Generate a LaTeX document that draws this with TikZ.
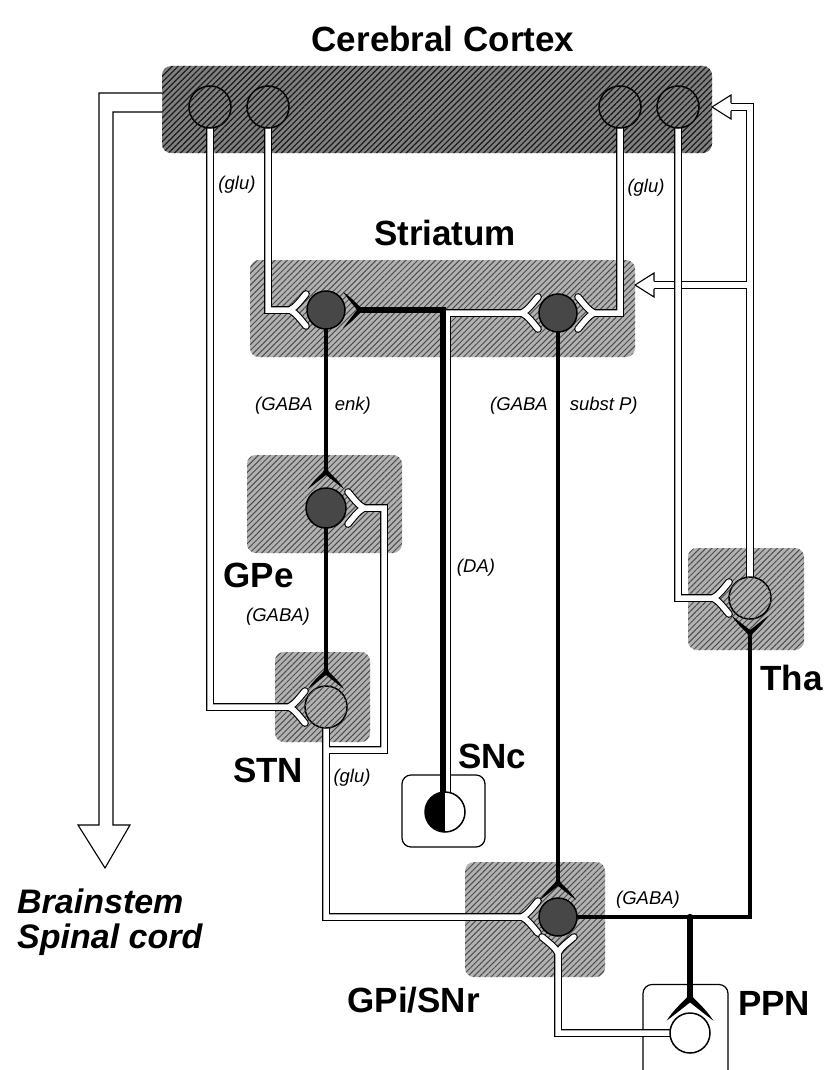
\documentclass[tikz,border=0pt]{standalone}
\usepackage{fontspec}
\setmainfont{Liberation Sans}
\usetikzlibrary{calc,patterns.meta}
\pgfdeclarelayer{bg}
\pgfdeclarelayer{ax}
\pgfsetlayers{bg,ax,main}
\newcommand\wprongs[2]{{[shift={(#1)},rotate=#2] (0,0) .. controls (6,3) and (10,9) .. (16,16) (0,0) .. controls (6,-3) and (10,-9) .. (16,-16)}}
\tikzset{
  bfork/.pic={\fill[black] (-0.5,-2.3) -- (1,-2.3) .. controls (5,-6) and (11,-13) .. (19,-18) .. controls (13,-10) and (8,-4) .. (5,0) .. controls (8,4) and (13,10) .. (19,18) .. controls (11,13) and (5,6) .. (1,2.3) -- (-0.5,2.3) -- cycle;},
  openarrow/.pic={\draw[line width=1.1pt, fill=white, line join=miter] (19,-3.85) -- (19,-12) -- (0,0) -- (19,12) -- (19,3.85);},
}
\begin{document}
\begin{tikzpicture}[x=1pt,y=-1pt,
  box/.style={rectangle, rounded corners=9pt, inner sep=0pt, outer sep=0pt},
  darkbox/.style={box, fill=black!50, postaction={pattern={Lines[angle=45,distance=4.2pt,line width=1.2pt]}, pattern color=black!90}},
  lightbox/.style={box, fill=black!30, postaction={pattern={Lines[angle=45,distance=4.2pt,line width=1pt]}, pattern color=black!70}},
  plainbox/.style={box, draw=black, line width=1.2pt, fill=white},
  neuron/.style={circle, draw=black, line width=1.5pt, inner sep=0pt, outer sep=0pt, minimum size=42pt},
  cneuron/.style={neuron, fill=black!50, postaction={pattern={Lines[angle=45,distance=4.2pt,line width=1.2pt]}, pattern color=black!90}},
  lneuron/.style={neuron, fill=black!30, postaction={pattern={Lines[angle=45,distance=4.2pt,line width=1pt]}, pattern color=black!70}},
  dneuron/.style={neuron, minimum size=38pt, fill=black!72},
  wneuron/.style={neuron, fill=white},
  wax/.style={draw=black, line width=1.1pt, double=white, double distance=5.5pt, line cap=round, line join=miter},
  bax/.style={draw=black, line width=4.6pt, line cap=round, line join=miter},
  ttl/.style={font=\bfseries\fontsize{35}{40}\selectfont, inner sep=0pt},
  lbl/.style={font=\itshape\fontsize{18.5}{21}\selectfont, inner sep=0pt},
  bsl/.style={font=\bfseries\itshape\fontsize{34}{36}\selectfont, inner sep=0pt, anchor=base west},
]
\useasboundingbox (0,0) rectangle (824,1070);
\begin{pgfonlayer}{bg}
\fill[white] (0,0) rectangle (824,1070);
\node[darkbox, minimum width=550pt, minimum height=87pt] (ctx) at (437,109.5) {};
\node[lightbox, minimum width=385pt, minimum height=97pt] (str) at (442.5,308.5) {};
\node[lightbox, minimum width=155pt, minimum height=98pt] (gpe) at (324.5,504) {};
\node[lightbox, minimum width=95pt, minimum height=90pt] (stn) at (322.5,697) {};
\node[plainbox, minimum width=83pt, minimum height=72pt] (snc) at (443.5,811) {};
\node[lightbox, minimum width=140pt, minimum height=115pt] (gpi) at (535,919.5) {};
\node[lightbox, minimum width=116pt, minimum height=102pt] (tha) at (746,599) {};
\node[plainbox, minimum width=85pt, minimum height=95pt] (ppn) at (685.5,1032) {};
\end{pgfonlayer}

% neurons
\node[cneuron] (c1) at (210,107) {};
\node[cneuron] (c2) at (268,107) {};
\node[cneuron] (c3) at (620,107) {};
\node[cneuron] (c4) at (678,107) {};
\node[dneuron] (s1) at (326,310) {};
\node[dneuron] (s2) at (558,313) {};
\node[dneuron, minimum size=40pt] (ngpe) at (326,508) {};
\node[lneuron] (nstn) at (326,707) {};
\node[neuron, minimum size=40pt, fill=white, path picture={\fill[black] (path picture bounding box.south west) rectangle (path picture bounding box.north);}] (nsnc) at (445,812) {};
\node[dneuron] (ngpi) at (558,917) {};
\node[lneuron] (ntha) at (750,598) {};
\node[wneuron, minimum size=40pt] (nppn) at (690,1033) {};

% fork points
\coordinate (fStnL) at ($(nstn.center)+(-37,0)$);
\coordinate (fStnT) at ($(nstn.center)+(0,-37)$);
\coordinate (fS1L) at ($(s1.center)+(-36,0)$);
\coordinate (fS1R) at ($(s1.center)+(36,0)$);
\coordinate (fS2L) at ($(s2.center)+(-36,0)$);
\coordinate (fS2R) at ($(s2.center)+(36,0)$);
\coordinate (fThaL) at ($(ntha.center)+(-37,0)$);
\coordinate (fThaB) at ($(ntha.center)+(0,37)$);
\coordinate (fGpeT) at ($(ngpe.center)+(0,-38)$);
\coordinate (fGpeR) at ($(ngpe.center)+(38,0)$);
\coordinate (fGpiT) at ($(ngpi.center)+(0,-36)$);
\coordinate (fGpiL) at ($(ngpi.center)+(-36,0)$);
\coordinate (fGpiB) at ($(ngpi.center)+(0,36)$);
\coordinate (fPpnT) at ($(nppn.center)+(0,-37)$);
\coordinate (tipC) at (ctx.east |- c4.center);
\coordinate (tipS) at ($(str.east)+(0,-23.5)$);
\coordinate (b1) at ($(nstn.center)+(0,43)$);
\coordinate (k1) at ($(fGpeR)+(20,0)$);
\coordinate (b2) at (nppn.center |- ngpi.center);
\coordinate (da1) at ($(nsnc.center)+(2,-19)$);
\coordinate (da2) at ($(nsnc.center)+(-2.5,-19)$);

\begin{pgfonlayer}{ax}
% brainstem / spinal cord output
\draw[line width=1.1pt, fill=white, line join=miter] (ctx.west |- 0,93) -- (99,93) -- (99,825) -- (78,825) -- (105,868) -- (130,825) -- (113,825) -- (113,112) -- (ctx.west |- 0,112);
% cortex -> striatum, STN
\draw[wax] (c1.south) |- (fStnL) \wprongs{fStnL}{0};
\draw[wax] (c2.south) |- (fS1L) \wprongs{fS1L}{0};
\draw[wax] (c3.south) |- (fS2R) \wprongs{fS2R}{180};
% thalamus -> cortex, striatum
\draw[wax] (ntha.north) |- ($(tipC)+(10,0)$) (ntha.north |- tipS) -- ($(tipS)+(10,0)$);
\pic at (tipC) {openarrow};
\pic at (tipS) {openarrow};
% cortex -> thalamus
\draw[wax] (c4.south) |- (fThaL) \wprongs{fThaL}{0};
% striatum -> GPe, GPi ; GPe -> STN
\draw[bax] (s1.south) -- (fGpeT);
\pic[rotate=-90] at (fGpeT) {bfork};
\draw[bax] (ngpe.south) -- (fStnT);
\pic[rotate=-90] at (fStnT) {bfork};
\draw[bax] (s2.south) -- (fGpiT);
\pic[rotate=-90] at (fGpiT) {bfork};
% STN -> GPi, GPe
\draw[wax] (nstn.south) |- (fGpiL) \wprongs{fGpiL}{0} (b1) -| (k1) -- (fGpeR) \wprongs{fGpeR}{180};
% GPi -> thalamus, PPN
\draw[bax] (ngpi.east) -| (fThaB);
\pic[rotate=90] at (fThaB) {bfork};
\draw[bax, line width=6.5pt] (b2) -- (fPpnT);
\pic[rotate=-90, scale=1.3] at (fPpnT) {bfork};
% PPN -> GPi
\draw[wax] (nppn.west) -| (fGpiB) \wprongs{fGpiB}{90};
% SNc -> striatum (DA)
\draw[wax] (da1) |- (fS2L) \wprongs{fS2L}{0};
\draw[bax, line width=6pt] (da2) |- (fS1R);
\pic[rotate=180] at (fS1R) {bfork};
\end{pgfonlayer}

% titles
\node[ttl, anchor=base] (tCtx) at (443,52) {Cerebral Cortex};
\node[ttl, anchor=base] (tStr) at (445,245) {Striatum};
\node[ttl, anchor=base east] (tGpe) at (294,587) {GPe};
\node[ttl, anchor=base west] (tStn) at (233,782) {STN};
\node[ttl, anchor=base west] (tSnc) at (458,768) {SNc};
\node[ttl, anchor=base east] (tGpi) at (480,1012) {GPi/SNr};
\node[ttl, anchor=base east] (tTha) at (823,690) {Tha};
\node[ttl, anchor=base west] (tPpn) at (738,1015) {PPN};
\node[bsl] (tBs) at (17,913) {Brainstem};
\node[bsl] (tSc) at (17,948) {Spinal cord};
% transmitter labels
\node[lbl] (l1) at (237,185) {(glu)};
\node[lbl] (l2) at (646,188) {(glu)};
\node[lbl, anchor=base west] (l3) at (255,410) {(GABA\hspace{22pt}enk)};
\node[lbl, anchor=base west] (l4) at (490,410) {(GABA\hspace{22pt}subst P)};
\node[lbl] (l5) at (278,617) {(GABA)};
\node[lbl] (l6) at (476,568) {(DA)};
\node[lbl] (l7) at (352,778) {(glu)};
\node[lbl] (l8) at (648,900) {(GABA)};
\end{tikzpicture}
\end{document}
